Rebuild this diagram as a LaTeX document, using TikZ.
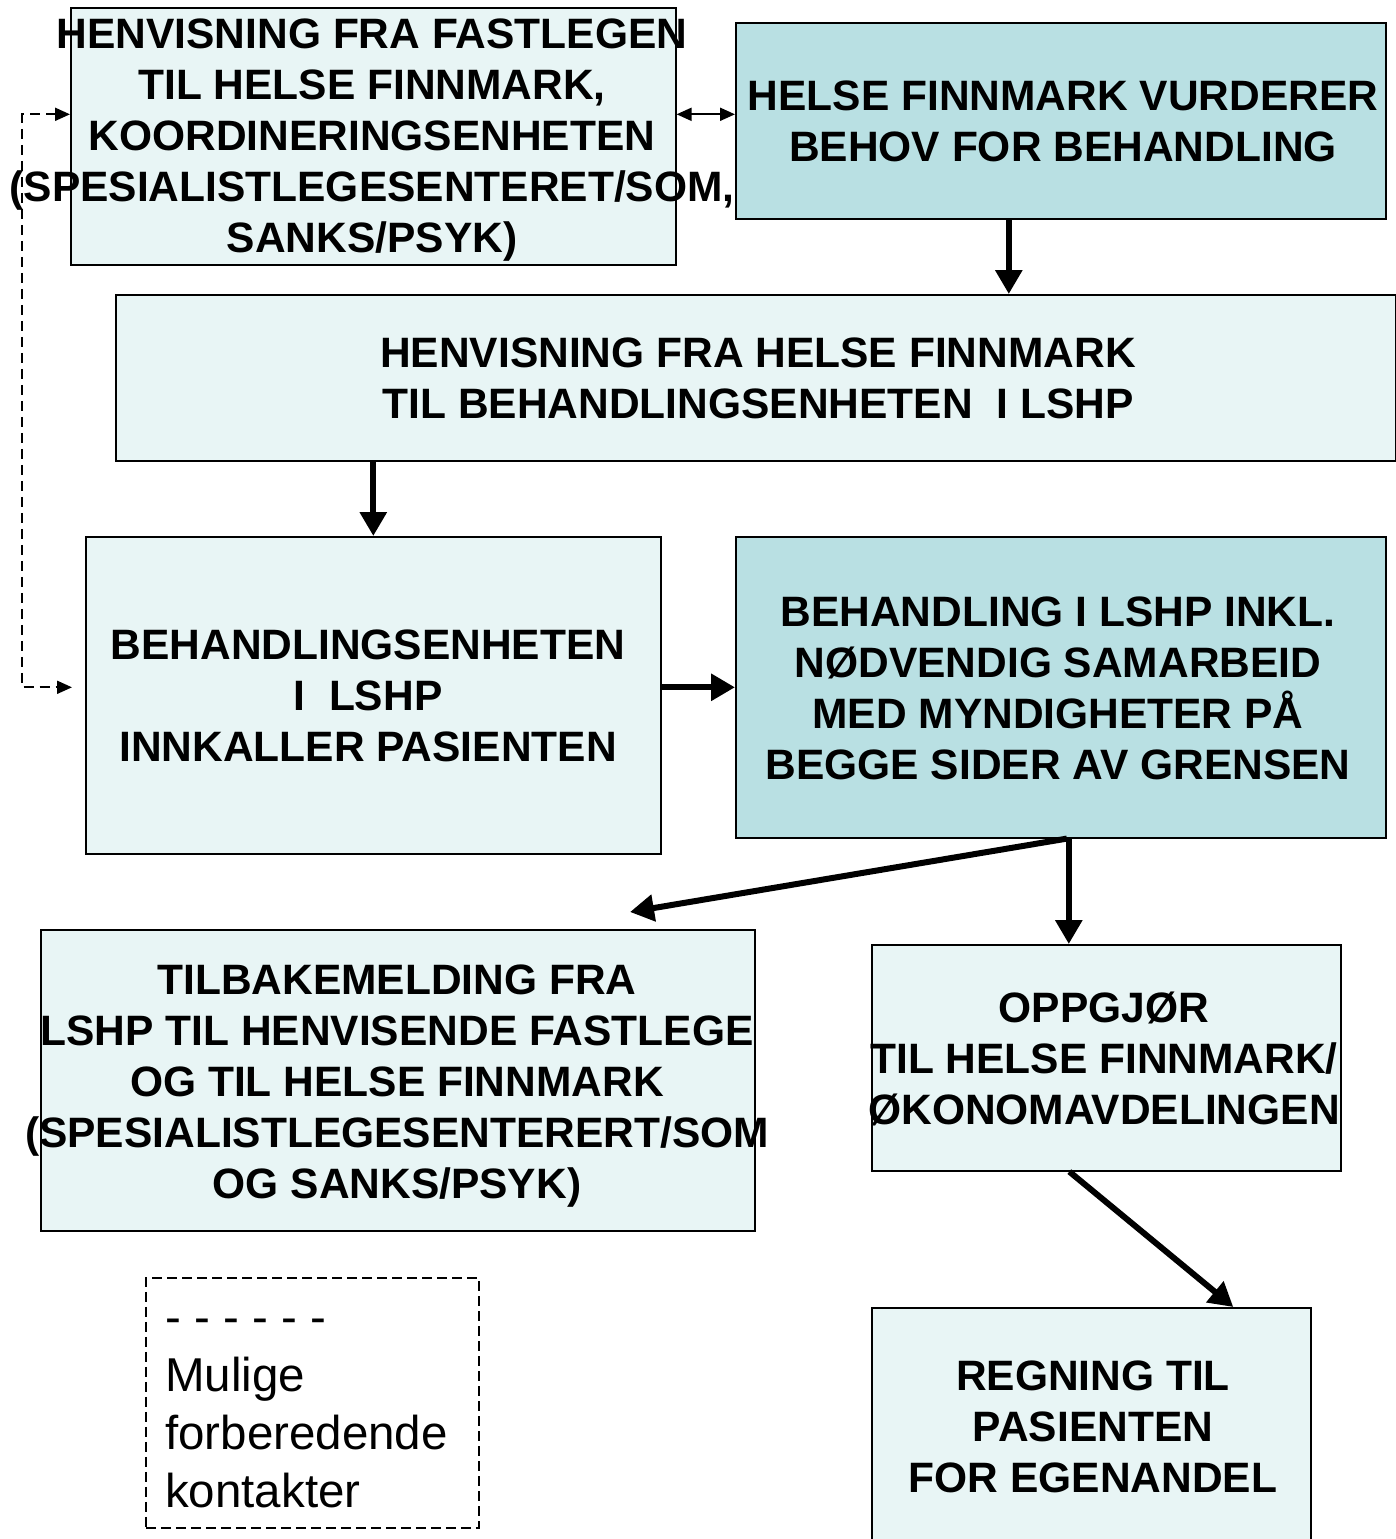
\documentclass[tikz,border=0pt]{standalone}
\usepackage{fontspec}
\setmainfont{Liberation Sans}
\usetikzlibrary{arrows.meta}
\definecolor{boxlight}{RGB}{232,245,245}
\definecolor{boxdark}{RGB}{185,224,227}

\begin{document}
\begin{tikzpicture}
    [x=1pt,y=-1pt,
     flow/.style={draw,line width=1.6pt,inner sep=0pt,anchor=north west,fill=boxlight},
     flowdark/.style={flow,fill=boxdark},
     flowtext/.style={inner sep=0pt,align=center,font=\bfseries\fontsize{42.5}{51}\selectfont},
     conn/.style={line width=6pt,-{Triangle[width=26pt,length=24pt]}},
     link/.style={line width=2pt,{Triangle[width=13pt,length=15pt]}-{Triangle[width=13pt,length=15pt]}},
     dashlink/.style={link,dash pattern=on 10pt off 6pt}]
  \useasboundingbox (0,0) rectangle (1395,1539);
  \node[flow,minimum width=605pt,minimum height=257pt] (fastlege) at (70,7) {};
  \node[flowdark,minimum width=650pt,minimum height=196pt] (vurder) at (735,22) {};
  \node[flow,minimum width=1280pt,minimum height=166pt] (henv) at (115,294) {};
  \node[flow,minimum width=575pt,minimum height=317pt] (innk) at (85,536) {};
  \node[flowdark,minimum width=650pt,minimum height=301pt] (beh) at (735,536) {};
  \node[flow,minimum width=714pt,minimum height=301pt] (tilb) at (40,929) {};
  \node[flow,minimum width=469pt,minimum height=226pt] (oppg) at (871,944) {};
  \node[flow,minimum width=439pt,minimum height=260pt] (regn) at (871,1307) {};
  \node[draw,line width=1.6pt,dash pattern=on 10pt off 5pt,inner sep=0pt,anchor=north west,
    minimum width=333pt,minimum height=250pt] (legend) at (145,1277) {};

  \node[flowtext] (fastlegetxt) at (372,140) {HENVISNING FRA FASTLEGEN\\TIL HELSE FINNMARK,\\
    KOORDINERINGSENHETEN\\(SPESIALISTLEGESENTERET/SOM,\\SANKS/PSYK)};
  \node[flowtext] (vurdertxt) at (1063,121) {HELSE FINNMARK VURDERER\\BEHOV FOR BEHANDLING};
  \node[flowtext] (henvtxt) at (758,378) {HENVISNING FRA HELSE FINNMARK\\
    TIL BEHANDLINGSENHETEN\ \ I LSHP};
  \node[flowtext] (innktxt) at (368,696) {BEHANDLINGSENHETEN\\I\ \ LSHP\\INNKALLER PASIENTEN};
  \node[flowtext] (behtxt) at (1058,688) {BEHANDLING I LSHP INKL.\\NØDVENDIG SAMARBEID\\
    MED MYNDIGHETER PÅ\\BEGGE SIDER AV GRENSEN};
  \node[flowtext] (tilbtxt) at (397,1086) {TILBAKEMELDING FRA\\LSHP TIL HENVISENDE FASTLEGE\\
    OG TIL HELSE FINNMARK\\(SPESIALISTLEGESENTERERT/SOM\\OG SANKS/PSYK)};
  \node[flowtext] (oppgtxt) at (1104,1059) {OPPGJØR\\TIL HELSE FINNMARK/\\ØKONOMAVDELINGEN};
  \node[flowtext] (regntxt) at (1093,1427) {REGNING TIL\\PASIENTEN\\FOR EGENANDEL};
  \node[inner sep=0pt,align=left,anchor=north west,font=\fontsize{47.5}{58}\selectfont]
    (legendtxt) at (165,1319) {- - - - - -\\Mulige\\forberedende\\kontakter};

  \coordinate (tilbin) at (630,912);
  \draw[link] ([yshift=22pt]fastlege.east) -- ([yshift=22pt]fastlege.east -| vurder.west);
  \draw[dashlink] ([yshift=22pt]fastlege.west) -- ++(-48,0) |- ([xshift=-13pt]innk.west |- beh.west);
  \draw[conn] ([xshift=-52pt]vurder.south) -- ([xshift=-52pt]vurder.south |- henv.north);
  \draw[conn] (henv.south -| innk.north) -- (innk.north);
  \draw[conn] (innk.east |- beh.west) -- (beh.west);
  \draw[conn] ([xshift=6pt]beh.south) -- (tilbin);
  \draw[conn] ([xshift=8pt]beh.south) -- ([xshift=8pt]beh.south |- oppg.north);
  \draw[conn] ([xshift=-37pt]oppg.south) -- ([xshift=142pt]regn.north);
\end{tikzpicture}
\end{document}
